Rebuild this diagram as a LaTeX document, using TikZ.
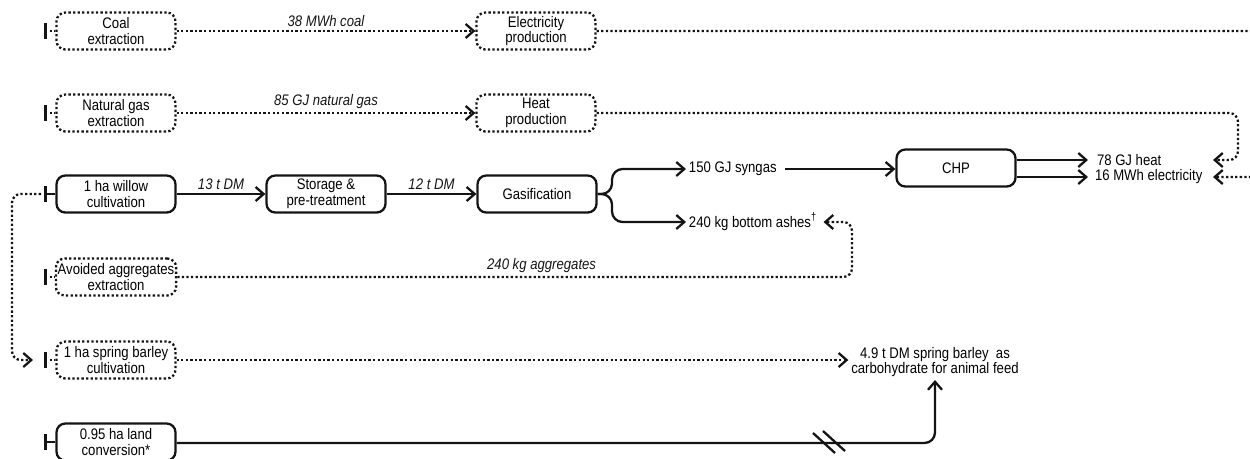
\documentclass[tikz,border=0pt]{standalone}
\usepackage{fontspec}
\setmainfont{Liberation Sans}[FakeStretch=0.86]
\usetikzlibrary{arrows.meta, positioning, calc}
\definecolor{flowblack}{RGB}{20,20,20}
\tikzset{
    % Process boxes
    pbox/.style={rectangle, rounded corners=5pt, draw=flowblack, line width=1.3pt,
                minimum width=2.38cm, minimum height=0.74cm, inner xsep=1pt, inner ysep=1pt,
                align=center, font=\fontsize{8.7}{9}\selectfont},
    abox/.style={pbox, dash pattern=on 1.3pt off 1.3pt},
    % Flows
    flow/.style={-{Straight Barb[length=1.6mm, width=2.8mm]}, line width=1.3pt, flowblack},
    dflow/.style={flow, dash pattern=on 1.3pt off 1.3pt},
    stub/.style={{Bar[width=9pt, line width=1pt, sep=1.5pt]Bar[width=9pt, line width=1pt]}-,
                line width=1.3pt, flowblack},
    dstub/.style={stub, dash pattern=on 1.3pt off 1.3pt},
    brkline/.style={line width=1.3pt, flowblack},
    % Texts
    flbl/.style={font=\fontsize{8.7}{9}\selectfont\itshape, inner sep=2pt},
    outtxt/.style={font=\fontsize{8.7}{9}\selectfont, inner sep=1.5pt, anchor=west, align=center},
}
\begin{document}
\begin{tikzpicture}[x=0.02cm, y=-0.02cm]
\useasboundingbox (0,0) rectangle (1250,458);

% left column
\node[abox] (coal)     at (116,31)  {Coal\\extraction};
\node[abox] (gas)      at (116,113) {Natural gas\\extraction};
\node[pbox] (willow)   at (116,194) {1 ha willow\\cultivation};
\node[abox] (aggr)     at (116,277) {Avoided aggregates\\extraction};
\node[abox] (barley)   at (116,360) {1 ha spring barley\\cultivation};
\node[pbox] (landconv) at (116,442) {0.95 ha land\\conversion*};

% processes
\node[abox] (elec)    at (536,31)  {Electricity\\production};
\node[abox] (heat)    at (536,113) {Heat\\production};
\node[pbox] (storage) at (326,194) {Storage \&\\pre-treatment};
\node[pbox] (gasif)   at (537,194) {Gasification};
\node[pbox] (chp)     at (956,168) {CHP};

% products
\node[outtxt] (syngas)  at (686,169)  {150 GJ syngas};
\node[outtxt] (ashes)   at (686,222)  {240 kg bottom ashes\textsuperscript{\textdagger}};
\node[outtxt] (heatout) at (1094,160) {78 GJ heat};
\node[outtxt] (elecout) at (1092,177) {16 MWh electricity};
\node[outtxt, anchor=center] (feed) at (935,362) {4.9 t DM spring barley\ \ as\\carbohydrate for animal feed};

% start marks
\coordinate (coalin)   at (41,31);
\coordinate (gasin)    at (41,113);
\coordinate (willowin) at (41,194);
\coordinate (aggrin)   at (41,277);
\coordinate (barleyin) at (41,360);
\coordinate (landin)   at (41,442);
\draw[dstub] (coalin) -- (coal);
\draw[dstub] (gasin) -- (gas);
\draw[stub] (willowin) -- (willow);
\draw[dstub] (aggrin) -- (aggr);
\draw[dstub] (barleyin) -- (barley);
\draw[stub] (landin) -- (landconv);

% main chain
\draw[flow] (willow) -- node[flbl, above] {13 t DM} (storage);
\draw[flow] (storage) -- node[flbl, above] {12 t DM} (gasif);
\draw[flow, rounded corners=6pt] (gasif.east) -- (612,194) |- (syngas.west);
\draw[flow, rounded corners=6pt] (gasif.east) -- (612,194) |- (ashes.west);
\draw[flow, shorten <=3pt] (syngas.east) -- (chp.west |- syngas.east);
\draw[flow] (chp.east |- heatout.west) -- (1088,160);
\draw[flow] (chp.east |- elecout.west) -- (1088,177);

% avoided products
\coordinate (retx) at (1213,168);
\draw[dflow] (coal) -- node[flbl, above] {38 MWh coal} (elec);
\draw[dflow] (gas) -- node[flbl, above] {85 GJ natural gas} (heat);
\draw[dflow, rounded corners=5pt] (heat.east) -- (1238,113) |- (retx |- heatout.west);
\draw[dflow, rounded corners=5pt] (elec.east) -- (1275,31) |- (retx |- elecout.west);
\draw[dflow, rounded corners=5pt] (aggr.east) -- node[flbl, above, pos=0.54] {240 kg aggregates} (852,277) |- ([xshift=2pt]ashes.east);
\draw[dflow, rounded corners=5pt] (willowin) -- (12,194) |- (33,360);
\draw[dflow] (barley) -- (feed.west |- barley);

% land use
\draw[flow, rounded corners=6pt] (landconv.east |- 0,443) -| (feed.south);
\coordinate (brk) at (824,443);
\draw[brkline] (brk) ++(-11,-10) -- ++(22,20);
\draw[brkline] (brk) ++(-1,-12) -- ++(22,20);
\end{tikzpicture}
\end{document}
